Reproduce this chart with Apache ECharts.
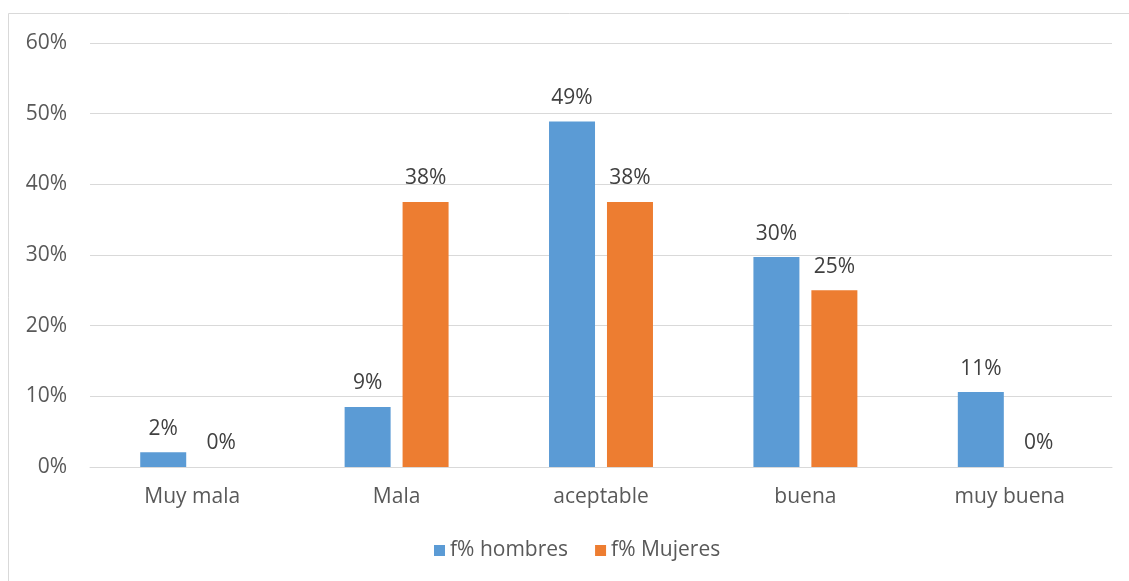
<!DOCTYPE html>
<html>
<head>
<meta charset="utf-8">
<script src="https://cdn.jsdelivr.net/npm/echarts@6/dist/echarts.min.js"></script>
<style>
  html, body { margin: 0; padding: 0; background: #fff; }
  #chart { width: 1129px; height: 581px; }
</style>
</head>
<body>
<div id="chart"></div>
<script>
const categories = ['Muy mala', 'Mala', 'aceptable', 'buena', 'muy buena']
const hombres = [2.1, 8.5, 48.9, 29.7, 10.6]
const mujeres = [0, 37.5, 37.5, 25.0, 0]
const yTicks = [0, 10, 20, 30, 40, 50, 60]

const fontFamily = '"Open Sans", Lato, sans-serif'
const chart = echarts.init(document.getElementById('chart'))

function barLabel() {
  return {
    show: true,
    position: 'top',
    distance: 13,
    color: '#404040',
    fontSize: 21,
    fontFamily: fontFamily,
    formatter: p => Math.round(p.value) + '%'
  }
}

chart.setOption({
  backgroundColor: '#ffffff',
  animation: false,
  graphic: [{
    type: 'rect',
    shape: { x: 8.5, y: 13.5, width: 1200, height: 700 },
    style: { fill: 'none', stroke: '#d9d9d9', lineWidth: 1 },
    silent: true
  }],
  grid: { left: 90, right: 17, top: 43, bottom: 114 },
  legend: {
    bottom: 15,
    left: 429,
    itemWidth: 11,
    itemHeight: 11,
    itemGap: 27,
    icon: 'rect',
    textStyle: { color: '#595959', fontSize: 21, fontFamily: fontFamily },
    data: ['f% hombres', 'f% Mujeres']
  },
  xAxis: {
    type: 'category',
    data: categories,
    axisLine: { lineStyle: { color: '#d9d9d9', width: 1 } },
    axisTick: { show: false },
    axisLabel: { color: '#595959', fontSize: 21, fontFamily: fontFamily, margin: 20 }
  },
  yAxis: {
    type: 'value',
    min: yTicks[0],
    max: yTicks[yTicks.length - 1],
    interval: 10,
    axisLine: { show: false },
    axisTick: { show: false },
    splitLine: { lineStyle: { color: '#d9d9d9', width: 1 } },
    axisLabel: { color: '#595959', fontSize: 21, fontFamily: fontFamily, margin: 23, formatter: v => v + '%' }
  },
  series: [
    {
      name: 'f% hombres',
      type: 'bar',
      data: hombres,
      barWidth: 46,
      barGap: '26%',
      itemStyle: { color: '#5b9bd5' },
      label: barLabel()
    },
    {
      name: 'f% Mujeres',
      type: 'bar',
      data: mujeres,
      barWidth: 46,
      itemStyle: { color: '#ed7d31' },
      label: barLabel()
    }
  ]
})
</script>
</body>
</html>
